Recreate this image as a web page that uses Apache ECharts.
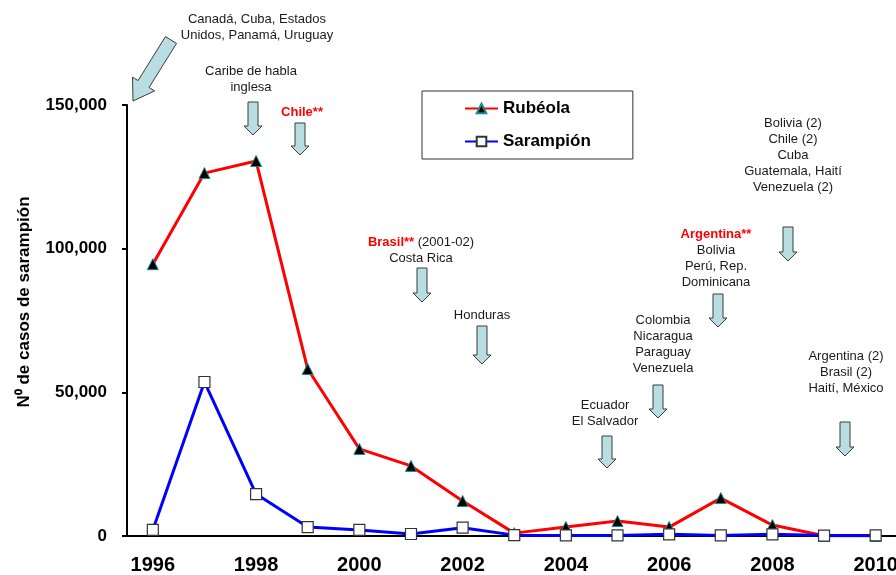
<!DOCTYPE html>
<html>
<head>
<meta charset="utf-8">
<script src="https://cdn.jsdelivr.net/npm/echarts@6/dist/echarts.min.js"></script>
<style>
  html, body { margin: 0; padding: 0; background: #fff; }
  #chart { width: 896px; height: 575px; }
</style>
</head>
<body>
<div id="chart"></div>
<script>
const years = ['1996', '1997', '1998', '1999', '2000', '2001', '2002', '2003',
               '2004', '2005', '2006', '2007', '2008', '2009', '2010'];
const rubeola = [94600, 126300, 130500, 58100, 30300, 24400, 12200, 1000,
                 3100, 5200, 3100, 13200, 3800, 100, 0];
const sarampion = [2100, 53600, 14600, 3100, 2100, 700, 2900, 300,
                   200, 200, 600, 200, 600, 150, 200];
const yTicks = [0, 50000, 100000, 150000];

const FONT = '"Liberation Sans", Arial, sans-serif';

// notes over the chart (text + block arrows), positions in px
const notes = [
  { text: 'Canadá, Cuba, Estados\nUnidos, Panamá, Uruguay', x: 257, y: 19 },
  { text: 'Caribe de habla\ninglesa', x: 251, y: 71 },
  { text: '{red|Chile**}', x: 302, y: 112 },
  { text: '{red|Brasil**} (2001-02)\nCosta Rica', x: 421, y: 242 },
  { text: 'Honduras', x: 482, y: 315 },
  { text: '{red|Argentina**}\nBolivia\nPerú, Rep.\nDominicana', x: 716, y: 234 },
  { text: 'Colombia\nNicaragua\nParaguay\nVenezuela', x: 663, y: 320 },
  { text: 'Ecuador\nEl Salvador', x: 605, y: 405 },
  { text: 'Bolivia (2)\nChile (2)\nCuba\nGuatemala, Haití\nVenezuela (2)', x: 793, y: 123 },
  { text: 'Argentina (2)\nBrasil (2)\nHaití, México', x: 846, y: 356 }
];
const downArrows = [
  [253, 102, 135], [300, 123, 155], [422, 268, 302], [482, 326, 364],
  [718, 294, 327], [658, 385, 418], [607, 436, 468], [788, 227, 261],
  [845, 422, 456]
];

function arrowPoints(tail, tip, sw, hw, hl) {
  const dx = tip[0] - tail[0], dy = tip[1] - tail[1];
  const len = Math.sqrt(dx * dx + dy * dy);
  const ux = dx / len, uy = dy / len;
  const nx = -uy, ny = ux;
  const bx = tip[0] - ux * hl, by = tip[1] - uy * hl;
  return [
    [tail[0] + nx * sw / 2, tail[1] + ny * sw / 2],
    [bx + nx * sw / 2, by + ny * sw / 2],
    [bx + nx * hw / 2, by + ny * hw / 2],
    tip,
    [bx - nx * hw / 2, by - ny * hw / 2],
    [bx - nx * sw / 2, by - ny * sw / 2],
    [tail[0] - nx * sw / 2, tail[1] - ny * sw / 2]
  ];
}

const arrowStyle = { fill: '#B9DEE2', stroke: '#3a3a3a', lineWidth: 1 };
const graphics = [];
downArrows.forEach(a => {
  graphics.push({
    type: 'polygon',
    shape: { points: arrowPoints([a[0], a[1]], [a[0], a[2]], 10, 18, 9) },
    style: arrowStyle
  });
});
graphics.push({
  type: 'polygon',
  shape: { points: arrowPoints([171, 40], [133, 101], 13, 26, 20) },
  style: arrowStyle
});
notes.forEach(n => {
  graphics.push({
    type: 'text',
    style: {
      text: n.text,
      x: n.x,
      y: n.y - 8,
      align: 'center',
      verticalAlign: 'top',
      font: '13px ' + FONT,
      fill: '#1a1a1a',
      lineHeight: 16,
      rich: {
        red: { fill: '#FF0000', fontWeight: 'bold', fontSize: 13, fontFamily: FONT, lineHeight: 16 }
      }
    }
  });
});
graphics.push({
  type: 'text',
  rotation: Math.PI / 2,
  x: 24,
  y: 302,
  style: {
    text: 'N⁰ de casos de sarampión',
    align: 'center',
    verticalAlign: 'middle',
    font: 'bold 17px ' + FONT,
    fill: '#000'
  }
});

const chart = echarts.init(document.getElementById('chart'));
chart.setOption({
  animation: false,
  backgroundColor: '#fff',
  grid: { left: 127, right: -5.5, top: 105, bottom: 39, outerBoundsMode: 'none' },
  legend: {
    orient: 'vertical',
    left: 422,
    top: 91,
    padding: [9, 42, 9, 42],
    itemGap: 16,
    itemWidth: 33,
    itemHeight: 12,
    borderColor: '#333',
    borderWidth: 1,
    textStyle: { fontFamily: FONT, fontSize: 17, fontWeight: 'bold', color: '#000' },
    data: ['Rubéola', 'Sarampión']
  },
  xAxis: {
    type: 'category',
    data: years,
    boundaryGap: true,
    axisLine: { lineStyle: { color: '#000', width: 2 } },
    axisTick: { interval: 0, length: 6, lineStyle: { color: '#000', width: 2 } },
    axisLabel: {
      interval: 1,
      margin: 19,
      fontFamily: FONT,
      fontSize: 20,
      fontWeight: 'bold',
      color: '#000'
    },
    splitLine: { show: false }
  },
  yAxis: {
    type: 'value',
    min: yTicks[0],
    max: yTicks[yTicks.length - 1],
    interval: yTicks[1] - yTicks[0],
    axisLine: { show: true, lineStyle: { color: '#000', width: 2 } },
    axisTick: { show: true, length: 5, lineStyle: { color: '#000', width: 2 } },
    axisLabel: {
      margin: 20,
      fontFamily: FONT,
      fontSize: 17,
      fontWeight: 'bold',
      color: '#000',
      formatter: v => v.toLocaleString('en-US')
    },
    splitLine: { show: false }
  },
  series: [
    {
      name: 'Rubéola',
      type: 'line',
      data: rubeola,
      symbol: 'triangle',
      symbolSize: 11,
      lineStyle: { color: '#FF0000', width: 3 },
      itemStyle: { color: '#000', borderColor: '#1a8c8c', borderWidth: 1 }
    },
    {
      name: 'Sarampión',
      type: 'line',
      data: sarampion,
      symbol: 'rect',
      symbolSize: 11,
      lineStyle: { color: '#0000FF', width: 3 },
      itemStyle: { color: '#fff', borderColor: '#333', borderWidth: 1.2 }
    }
  ],
  graphic: graphics
});
</script>
</body>
</html>
